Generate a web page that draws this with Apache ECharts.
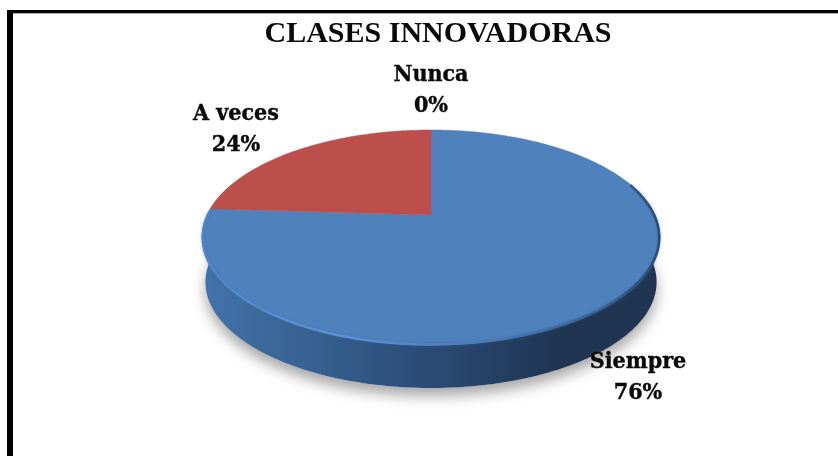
<!DOCTYPE html>
<html>
<head>
<meta charset="utf-8">
<style>
  html, body { margin: 0; padding: 0; background: #fff; }
  #chart { width: 838px; height: 456px; }
</style>
<script src="https://cdn.jsdelivr.net/npm/echarts@6/dist/echarts.min.js"></script>
</head>
<body>
<div id="chart"></div>
<script>
const categories = ['Siempre', 'A veces', 'Nunca'];
const percentValues = [76, 24, 0];
const sliceColors = ['#4f81bd', '#bc4f4c', '#9bbb59'];
const chartTitle = 'CLASES INNOVADORAS';

// label centres, picked by eye
const labelCentres = [[638, 378], [236, 130], [431, 91]];

// 3D look of the pie: circle projected with a bit of perspective
const cx = 431, cy = 215, rx = 224, ry = 102.8, persp = 0.209;
const depth = 45, baseScale = 0.985;

const project = (deg, scale, dy) => {
  const a = deg * Math.PI / 180;
  const u = Math.sin(a), v = -Math.cos(a);
  const w = 1 - persp * v;
  return [cx + scale * rx * u / w, cy + dy + scale * ry * v / w];
};

const arcPoints = (from, to, scale, dy) => {
  const pts = [];
  const steps = Math.max(1, Math.ceil(Math.abs(to - from)));
  for (let i = 0; i <= steps; i++) {
    pts.push(project(from + (to - from) * i / steps, scale, dy));
  }
  return pts;
};

const total = percentValues.reduce((a, b) => a + b, 0);
const startAngles = percentValues.map((_, i) =>
  percentValues.slice(0, i).reduce((a, b) => a + b, 0) / total * 360);

const gradientX = stops => new echarts.graphic.LinearGradient(0, 0, 1, 0, stops);

const renderBody = () => ({
  type: 'group',
  children: [
    {
      // soft shadow on the paper
      type: 'polygon',
      shape: { points: arcPoints(0, 360, baseScale, depth) },
      style: { fill: '#fff', shadowBlur: 14, shadowOffsetY: 8, shadowColor: 'rgba(0,0,0,0.35)' }
    },
    {
      type: 'polygon',
      shape: { points: arcPoints(70, 290, 1, 0).concat(arcPoints(290, 70, baseScale, depth)) },
      style: {
        fill: gradientX([
          { offset: 0, color: '#4273ab' },
          { offset: 0.25, color: '#36608f' },
          { offset: 0.5, color: '#2b4a75' },
          { offset: 0.78, color: '#1f3552' },
          { offset: 1, color: '#1f3552' }
        ])
      }
    }
  ]
});

const renderSlice = (params, api) => {
  const i = params.dataIndex;
  const value = api.value(0);
  if (!value) return null;
  const from = startAngles[i];
  const to = from + value / total * 360;
  return {
    type: 'polygon',
    shape: { points: [[cx, cy]].concat(arcPoints(from, to, 1, 0)) },
    style: { fill: sliceColors[i], stroke: sliceColors[i], lineWidth: 0.5 }
  };
};

const renderRim = () => ({
  type: 'polyline',
  shape: { points: arcPoints(72, 272, 0.996, 0) },
  style: {
    fill: 'none',
    lineWidth: 2.5,
    stroke: gradientX([
      { offset: 0, color: '#4f86c8' },
      { offset: 0.3, color: '#5a92d6' },
      { offset: 0.6, color: '#4a7db8' },
      { offset: 0.85, color: '#3a6497' },
      { offset: 1, color: '#2a4b75' }
    ]),
    shadowBlur: 3,
    shadowColor: 'rgba(60,100,150,0.5)'
  }
});

const renderLabel = (params, api) => ({
  type: 'text',
  x: labelCentres[params.dataIndex][0],
  y: labelCentres[params.dataIndex][1],
  style: {
    text: categories[params.dataIndex] + '\n' + api.value(0) + '%',
    font: 'bold 23px "DejaVu Serif Condensed", "DejaVu Serif", serif',
    lineHeight: 31,
    fill: '#0a0a0a',
    stroke: '#0a0a0a',
    lineWidth: 0.4,
    align: 'center',
    verticalAlign: 'middle'
  }
});

const chart = echarts.init(document.getElementById('chart'), null, { renderer: 'canvas' });

chart.setOption({
  animation: false,
  backgroundColor: '#fff',
  title: {
    text: chartTitle,
    left: 433,
    top: 14,
    textAlign: 'center',
    textStyle: { fontFamily: '"Liberation Serif", serif', fontWeight: 'bold', fontSize: 30, color: '#0a0a0a' }
  },
  graphic: [
    { type: 'rect', shape: { x: 7, y: 10, width: 831, height: 3 }, style: { fill: '#000' } },
    { type: 'rect', shape: { x: 7, y: 13, width: 831, height: 1 }, style: { fill: '#aaa' } },
    { type: 'rect', shape: { x: 7, y: 10, width: 6, height: 446 }, style: { fill: '#000' } }
  ],
  series: [
    { type: 'custom', coordinateSystem: 'none', data: [total], renderItem: renderBody, silent: true, z: 1 },
    { type: 'custom', coordinateSystem: 'none', data: percentValues, renderItem: renderSlice, silent: true, z: 2 },
    { type: 'custom', coordinateSystem: 'none', data: [total], renderItem: renderRim, silent: true, z: 3 },
    { type: 'custom', coordinateSystem: 'none', data: percentValues, renderItem: renderLabel, silent: true, z: 4 }
  ]
});
</script>
</body>
</html>
